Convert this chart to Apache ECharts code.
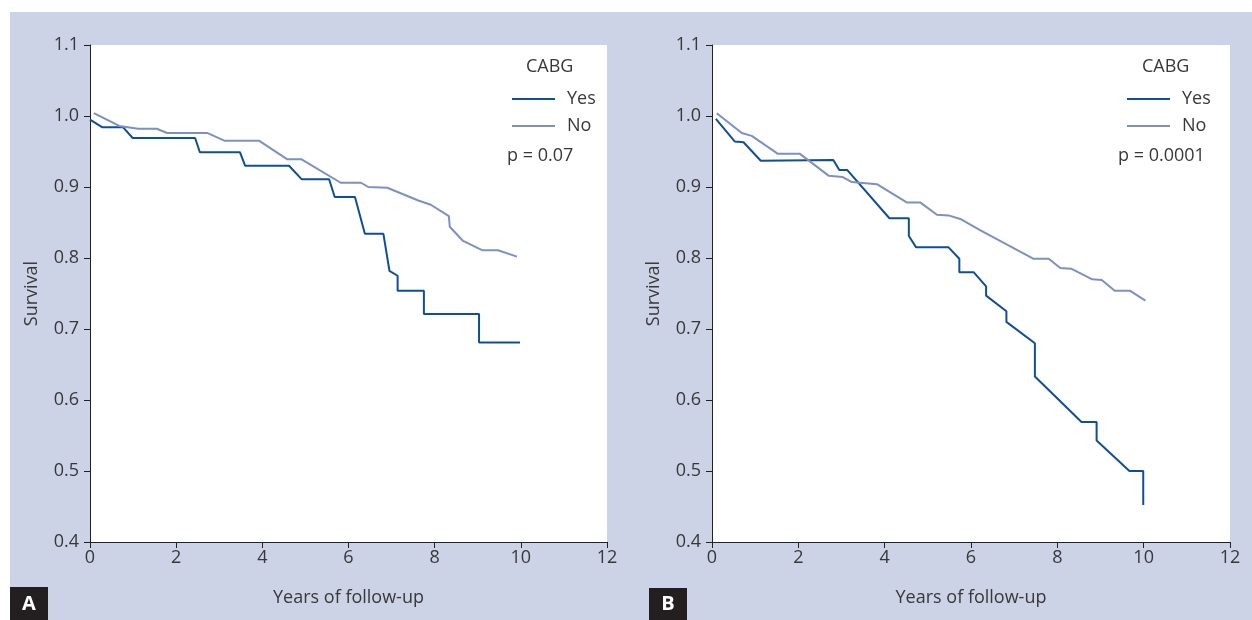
<!DOCTYPE html>
<html><head><meta charset="utf-8">
<script src="https://cdn.jsdelivr.net/npm/echarts@6/dist/echarts.min.js"></script>
<style>html,body{margin:0;padding:0;background:#fff}#c{width:1252px;height:620px}</style>
</head><body><div id="c"></div>
<script>
const yesA = [[0,0.995],[0.29,0.984],[0.77,0.984],[0.99,0.969],[2.44,0.969],[2.55,0.949],[3.48,0.949],[3.6,0.930],[4.62,0.930],[4.91,0.911],[5.55,0.911],[5.68,0.886],[6.15,0.886],[6.38,0.834],[6.81,0.834],[6.95,0.782],[7.14,0.775],[7.14,0.754],[7.75,0.754],[7.75,0.721],[9.03,0.721],[9.03,0.681],[9.98,0.681]];
const noA = [[0.09,1.004],[0.68,0.986],[1.12,0.982],[1.55,0.982],[1.79,0.976],[2.73,0.976],[3.13,0.965],[3.93,0.965],[4.58,0.939],[4.91,0.939],[5.82,0.906],[6.29,0.906],[6.46,0.900],[6.90,0.899],[7.62,0.881],[7.91,0.875],[8.33,0.859],[8.35,0.844],[8.66,0.824],[9.10,0.811],[9.47,0.811],[9.91,0.802]];
const yesB = [[0.09,0.996],[0.53,0.964],[0.73,0.963],[1.13,0.937],[2.81,0.938],[2.95,0.924],[3.13,0.924],[4.11,0.856],[4.56,0.856],[4.56,0.831],[4.73,0.815],[5.48,0.815],[5.73,0.799],[5.73,0.780],[6.06,0.780],[6.35,0.760],[6.35,0.747],[6.82,0.725],[6.82,0.710],[7.48,0.680],[7.48,0.633],[8.56,0.569],[8.91,0.569],[8.91,0.543],[9.67,0.500],[9.99,0.500],[9.99,0.452]];
const noB = [[0.11,1.004],[0.69,0.976],[0.92,0.972],[1.52,0.947],[2.03,0.947],[2.70,0.916],[3.03,0.914],[3.24,0.907],[3.82,0.904],[4.52,0.878],[4.83,0.878],[5.21,0.861],[5.48,0.860],[5.75,0.855],[6.22,0.839],[7.44,0.799],[7.80,0.799],[8.07,0.786],[8.32,0.785],[8.81,0.770],[9.03,0.769],[9.33,0.754],[9.68,0.754],[10.04,0.740]];
const groupNames = ['Yes','No'];
const pValues = ['p = 0.07','p = 0.0001'];
const panelLabels = ['A','B'];
const legendTitle = 'CABG';
const xName = 'Years of follow-up';
const yName = 'Survival';

const FONT = '"Open Sans", "Noto Sans", sans-serif';
const TXT = '#383838';
const YES_C = '#0e4f9b';
const NO_C = '#7c90c6';
const LAV = '#cdd3e7';
const FS = 18;

const chart = echarts.init(document.getElementById('c'));
const grids = [
  {left:90, top:45, width:517, height:497},
  {left:712, top:45, width:518, height:497}
];
function xAxis(i){return {gridIndex:i,type:'value',min:0,max:12,interval:2,name:xName,nameLocation:'middle',nameGap:47,
  nameTextStyle:{fontFamily:FONT,fontSize:FS,color:TXT},
  axisLine:{lineStyle:{color:'#222',width:1}},axisTick:{length:6,lineStyle:{color:'#222'}},
  axisLabel:{fontFamily:FONT,fontSize:FS,color:TXT,margin:7},splitLine:{show:false}};}
function yAxis(i){return {gridIndex:i,type:'value',min:0.4,max:1.1,interval:0.1,name:yName,nameLocation:'middle',nameGap:49,nameRotate:90,
  nameTextStyle:{fontFamily:FONT,fontSize:FS,color:TXT},
  axisLine:{show:true,lineStyle:{color:'#222',width:1}},axisTick:{show:true,length:6,lineStyle:{color:'#222'}},
  axisLabel:{fontFamily:FONT,fontSize:FS,color:TXT,margin:11,formatter:v=>v.toFixed(1)},splitLine:{show:false}};}
function line(name,data,i,color){return {name,type:'line',xAxisIndex:i,yAxisIndex:i,data,symbol:'none',
  lineStyle:{color,width:2},itemStyle:{color},z:3};}
function legendPanel(left){return {left, top:85, orient:'vertical', icon:'rect', itemWidth:43, itemHeight:2, itemGap:9,
  data:groupNames, selectedMode:false, textStyle:{fontFamily:FONT,fontSize:FS,color:TXT,padding:[0,0,0,7]}};}
function txt(text,left,top){return {text,left,top,padding:0,textStyle:{fontFamily:FONT,fontSize:FS,fontWeight:'normal',color:TXT}};}

chart.setOption({
  backgroundColor: LAV,
  animation:false,
  grid: grids.map(g=>Object.assign({show:true,backgroundColor:'#fff',borderWidth:0},g)),
  xAxis:[xAxis(0),xAxis(1)],
  yAxis:[yAxis(0),yAxis(1)],
  legend:[legendPanel(507),legendPanel(1122)],
  title:[
    txt(legendTitle,526,58), txt(legendTitle,1142,58),
    txt(pValues[0],507,147), txt(pValues[1],1118,147)
  ],
  graphic:[
    {type:'rect',shape:{x:0,y:0,width:1252,height:12},style:{fill:'#fff'},silent:true},
    {type:'rect',shape:{x:0,y:0,width:10,height:620},style:{fill:'#fff'},silent:true},
    {type:'group',left:10,top:587,children:[
      {type:'rect',shape:{x:0,y:0,width:38,height:33},style:{fill:'#231f20'}},
      {type:'text',style:{text:panelLabels[0],x:19,y:17,align:'center',verticalAlign:'middle',fill:'#fff',font:'bold 20px '+FONT}}
    ]},
    {type:'group',left:649,top:588,children:[
      {type:'rect',shape:{x:0,y:0,width:38,height:32},style:{fill:'#231f20'}},
      {type:'text',style:{text:panelLabels[1],x:19,y:16,align:'center',verticalAlign:'middle',fill:'#fff',font:'bold 20px '+FONT}}
    ]}
  ],
  series:[
    line(groupNames[0],yesA,0,YES_C), line(groupNames[1],noA,0,NO_C),
    line(groupNames[0],yesB,1,YES_C), line(groupNames[1],noB,1,NO_C)
  ]
});
</script></body></html>
